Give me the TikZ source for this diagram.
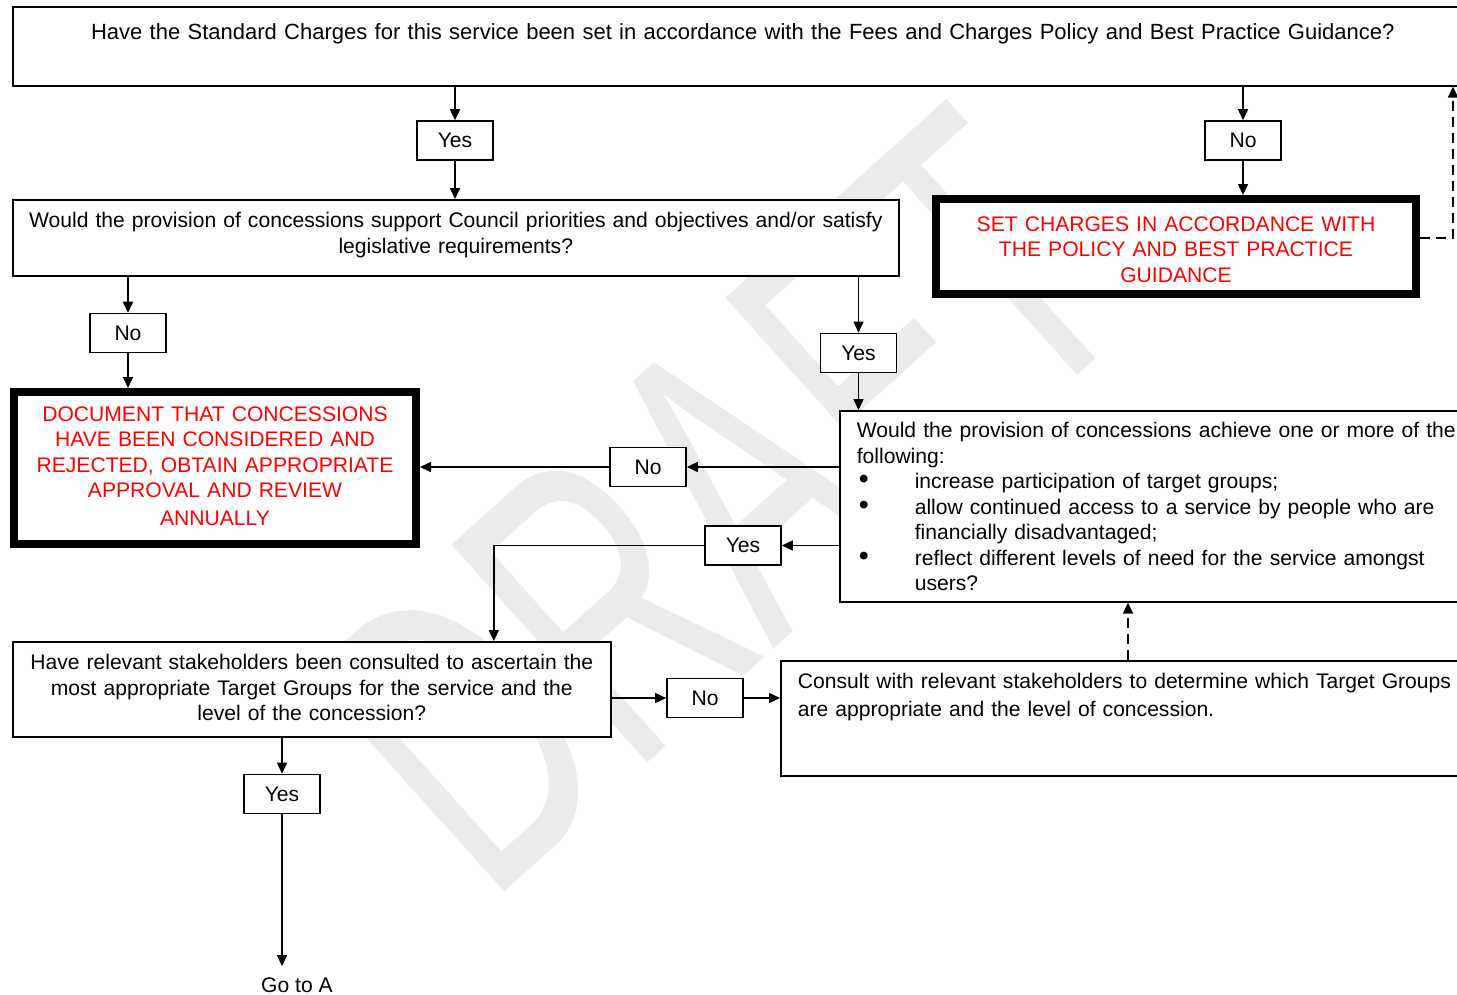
\documentclass[tikz,border=0pt]{standalone}
\usepackage{fontspec}
\setmainfont{Liberation Sans}
\usetikzlibrary{arrows.meta,calc}

\newcommand{\bulmark}{\hspace*{2pt}\makebox[56pt][l]{\scalebox{1.35}{\textbullet}}}
\newcommand{\bulgap}{\hspace*{58pt}}

\begin{document}
\begin{tikzpicture}[
    x=1pt,
    y=1pt,
    >={Triangle[length=11pt,width=10pt]},
    font=\fontsize{21.1}{25.5}\selectfont,
    every node/.style={align=center},
    box/.style={draw, line width=1.6pt, fill=white, anchor=north west, inner xsep=0pt, inner ysep=0pt},
    leftbox/.style={box, align=left, inner xsep=17pt},
    heavybox/.style={box, line width=8pt, text=red},
    tag/.style={draw, line width=1.6pt, fill=white, minimum width=76pt, minimum height=39pt, inner sep=0pt},
    link/.style={->, line width=1.6pt},
    dashlink/.style={->, line width=1.6pt, dash pattern=on 10pt off 6pt}
]
\useasboundingbox (0,0) rectangle (1457,-994);

% Watermark
\node[text=black!8, rotate=42, font=\fontsize{266}{266}\selectfont] (wm) at (720,-501) {\scalebox{1}[1.6]{DRAFT}};

% Questions
\node[box, text width=1460pt, text height=33pt, text depth=46pt, font=\fontsize{22}{25.5}\selectfont] (q1) at (12,-6)
    {Have the Standard Charges for this service been set in accordance with the Fees and Charges Policy and Best Practice Guidance?};

\node[box, text width=886pt, text height=28pt, text depth=48pt] (q2) at (12,-199)
    {Would the provision of concessions support Council priorities and objectives and/or satisfy\\
     legislative requirements?};

\node[leftbox, text width=647pt, text height=27pt, text depth=164pt] (q3) at (839,-410)
    {Would the provision of concessions achieve one or more of the\\
     following:\\
     \bulmark increase participation of target groups;\\
     \bulmark allow continued access to a service by people who are\\
     \bulgap financially disadvantaged;\\
     \bulmark reflect different levels of need for the service amongst\\
     \bulgap users?};

\node[box, text width=598pt, text height=28pt, text depth=67pt] (q4) at (12,-641)
    {Have relevant stakeholders been consulted to ascertain the\\
     most appropriate Target Groups for the service and the\\
     level of the concession?};

\node[leftbox, text width=706pt, text height=28pt, text depth=87pt] (q5) at (780,-660)
    {Consult with relevant stakeholders to determine which Target Groups\\[2.5pt]
     are appropriate and the level of concession.};

% Outcomes
\node[heavybox, text width=480pt, text height=32pt, text depth=63pt] (set) at (932,-195)
    {SET CHARGES IN ACCORDANCE WITH\\
     THE POLICY AND BEST PRACTICE\\
     GUIDANCE};

\node[heavybox, text width=402pt, text height=29pt, text depth=123pt] (doc) at (10,-388)
    {DOCUMENT THAT CONCESSIONS\\
     HAVE BEEN CONSIDERED AND\\
     REJECTED, OBTAIN APPROPRIATE\\
     APPROVAL AND REVIEW\\[2.5pt]
     ANNUALLY};

\node[anchor=base, inner ysep=11pt] (goa) at (297,-992) {Go to A};

% Answers
\node[tag] (yes1) at (455,-140.5) {Yes};
\node[tag] (no1) at (1243,-140.5) {No};
\node[tag] (no2) at (128,-333) {No};
\node[tag] (yes2) at (858.5,-353) {Yes};
\node[tag] (no3) at (648,-467) {No};
\node[tag] (yes3) at (743,-545.5) {Yes};
\node[tag] (no4) at (705,-698) {No};
\node[tag] (yes4) at (282,-794) {Yes};

\coordinate (ret) at (1453,-238);
\coordinate (up) at (1128,-630);

% Connections
\draw[link] (q1.south -| yes1) -- (yes1.north);
\draw[link] (yes1.south) -- (q2.north -| yes1);
\draw[link] (q1.south -| no1) -- (no1.north);
\draw[link] (no1.south) -- (set.north -| no1);
\draw[dashlink] (set.east |- ret) -- (ret) -- (ret |- q1.south);

\draw[link] (q2.south -| no2) -- (no2.north);
\draw[link] (no2.south) -- (doc.north -| no2);
\draw[link] (q2.south -| yes2) -- (yes2.north);
\draw[link] (yes2.south) -- (q3.north -| yes2);

\draw[link] (q3.west |- no3) -- (no3.east);
\draw[link] (no3.west) -- (doc.east |- no3);
\draw[link] (q3.west |- yes3) -- (yes3.east);
\draw[link] (yes3.west) -| ([xshift=182pt]q4.north);

\draw[link] (q4.east |- no4) -- (no4.west);
\draw[link] (no4.east) -- (q5.west |- no4);
\draw[dashlink] (q5.north -| up) -- (q3.south -| up);

\draw[link] (q4.south -| yes4) -- (yes4.north);
\draw[link] (yes4.south) -- (goa.north -| yes4);

\end{tikzpicture}
\end{document}
